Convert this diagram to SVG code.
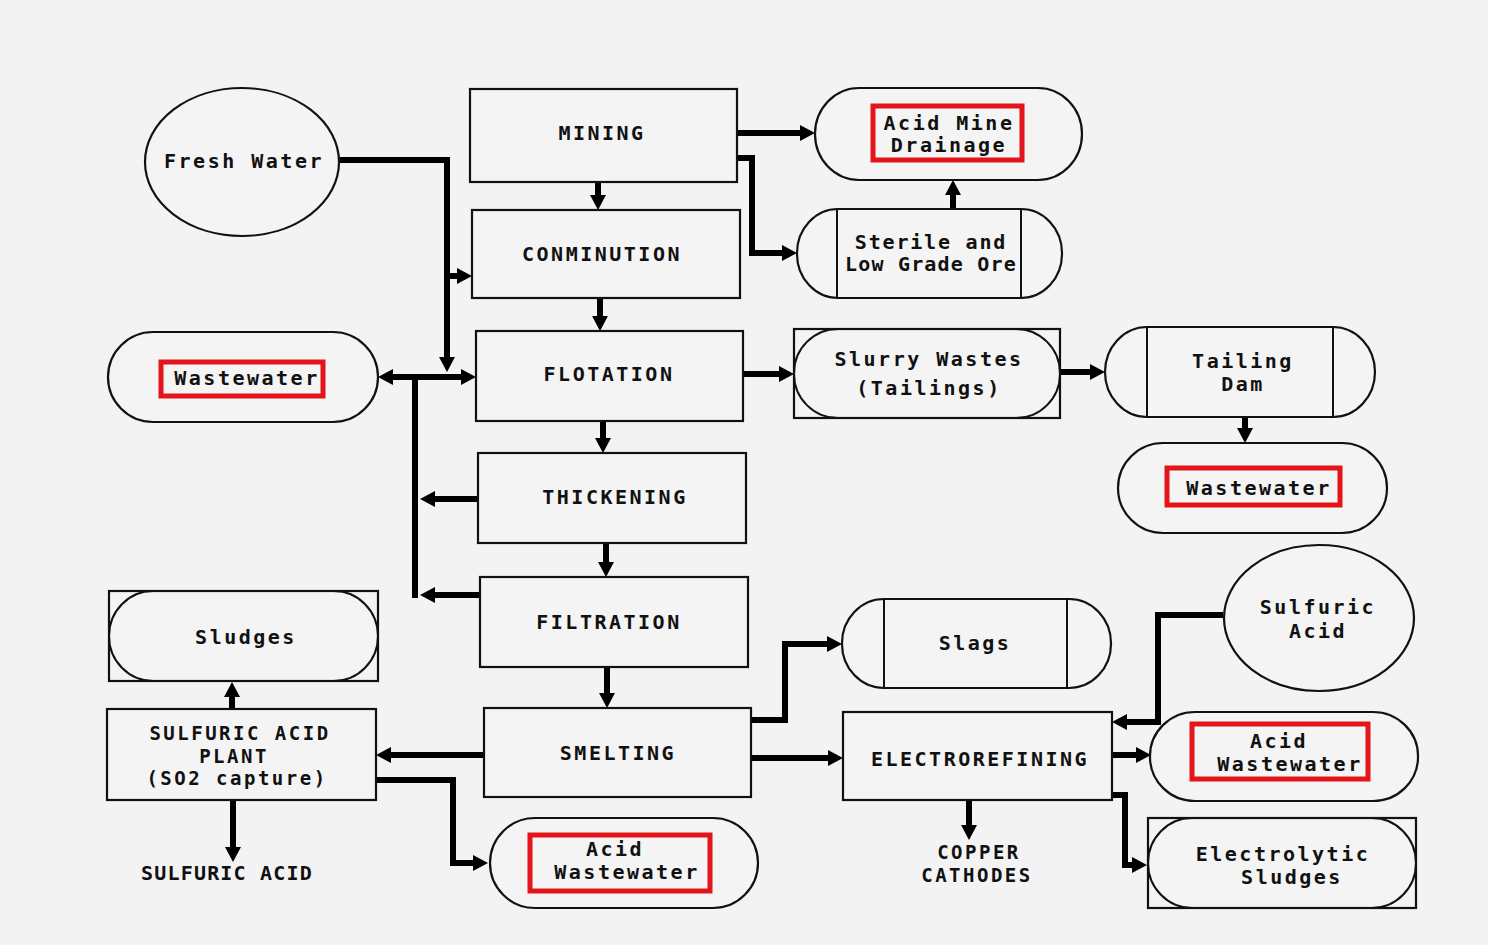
<svg xmlns="http://www.w3.org/2000/svg" width="1488" height="945" viewBox="0 0 1488 945">
<style>
.n{fill:none;stroke:#111;stroke-width:2}
.b{fill:#f4f4f4;stroke:#111;stroke-width:2.2}
.r{fill:none;stroke:#e3151b;stroke-width:5}
.c{fill:none;stroke:#000;stroke-width:6;marker-end:url(#ah)}
.t{font-family:"DejaVu Sans Mono","Liberation Mono",monospace;font-weight:bold;font-size:20px;letter-spacing:2.5px;text-anchor:middle;fill:#111}
.s{font-size:19px}
</style>
<defs>
<marker id="ah" markerUnits="userSpaceOnUse" markerWidth="18" markerHeight="18" refX="4" refY="9" orient="auto-start-reverse">
<path d="M0,1 L15,9 L0,17 z" fill="#000"/>
</marker>
</defs>
<rect x="0" y="0" width="1488" height="945" fill="#f3f3f3"/>

<g id="connectors">
<path class="c" d="M339,160 H447 V361"/>
<path class="c" d="M447,276 H461"/>
<path class="c" style="marker-start:url(#ah)" d="M389,377 H465"/>
<path fill="none" stroke="#000" stroke-width="6" d="M415,377 V598"/>
<path class="c" d="M478,499 H431"/>
<path class="c" d="M480,595 H431"/>
<path class="c" d="M598,182 V199"/>
<path class="c" d="M737,133 H804"/>
<path class="c" d="M737,158 H752 V253 H786"/>
<path class="c" d="M953,210 V191"/>
<path class="c" d="M600,298 V320"/>
<path class="c" d="M603,421 V442"/>
<path class="c" d="M606,543 V566"/>
<path class="c" d="M607,667 V697"/>
<path class="c" d="M743,374 H783"/>
<path class="c" d="M1060,372 H1094"/>
<path class="c" d="M1245,417 V432"/>
<path class="c" d="M484,755 H387"/>
<path class="c" d="M232,709 V693"/>
<path class="c" d="M233,800 V851"/>
<path class="c" d="M376,780 H453 V863 H477"/>
<path class="c" d="M751,720 H785 V644 H831"/>
<path class="c" d="M751,758 H832"/>
<path class="c" d="M1223,615 H1158 V722 H1123"/>
<path class="c" d="M1112,755 H1140"/>
<path class="c" d="M1112,795 H1125 V865 H1136"/>
<path class="c" d="M969,800 V829"/>
</g>

<g id="fresh-water">
<ellipse class="b" cx="242" cy="162" rx="97" ry="74"/>
<text class="t" x="244" y="168">Fresh Water</text>
</g>
<g id="mining">
<rect class="b" x="470" y="89" width="267" height="93"/>
<text class="t" x="602" y="140">MINING</text>
</g>
<g id="acid-mine-drainage">
<rect class="b" x="815" y="88" width="267" height="92" rx="44" ry="46"/>
<rect class="r" x="873" y="106" width="149" height="54"/>
<text class="t" x="949" y="130">Acid Mine</text>
<text class="t" x="949" y="152">Drainage</text>
</g>
<g id="conminution">
<rect class="b" x="472" y="210" width="268" height="88"/>
<text class="t" x="602" y="261">CONMINUTION</text>
</g>
<g id="sterile">
<rect class="b" x="797" y="209" width="265" height="89" rx="41" ry="44"/>
<path class="n" d="M837,209 V298 M1021,209 V298"/>
<text class="t" x="931" y="249" style="letter-spacing:1.8px">Sterile and</text>
<text class="t" x="931" y="271" style="letter-spacing:1.2px">Low Grade Ore</text>
</g>
<g id="flotation">
<rect class="b" x="476" y="331" width="267" height="90"/>
<text class="t" x="609" y="381">FLOTATION</text>
</g>
<g id="slurry-wastes">
<rect class="b" x="794" y="329" width="266" height="89"/>
<rect class="n" x="794" y="329" width="266" height="89" rx="44" ry="44"/>
<text class="t" x="929" y="366">Slurry Wastes</text>
<text class="t" x="929" y="395">(Tailings)</text>
</g>
<g id="tailing-dam">
<rect class="b" x="1105" y="327" width="270" height="90" rx="42" ry="45"/>
<path class="n" d="M1147,327 V417 M1333,327 V417"/>
<text class="t" x="1243" y="368">Tailing</text>
<text class="t" x="1243" y="391">Dam</text>
</g>
<g id="wastewater-right">
<rect class="b" x="1118" y="443" width="269" height="90" rx="45" ry="45"/>
<rect class="r" x="1167" y="468" width="173" height="37"/>
<text class="t" x="1259" y="495">Wastewater</text>
</g>
<g id="wastewater-left">
<rect class="b" x="108" y="332" width="270" height="90" rx="45" ry="45"/>
<rect class="r" x="161" y="362" width="162" height="34"/>
<text class="t" x="247" y="385">Wastewater</text>
</g>
<g id="thickening">
<rect class="b" x="478" y="453" width="268" height="90"/>
<text class="t" x="615" y="504">THICKENING</text>
</g>
<g id="filtration">
<rect class="b" x="480" y="577" width="268" height="90"/>
<text class="t" x="609" y="629">FILTRATION</text>
</g>
<g id="smelting">
<rect class="b" x="484" y="708" width="267" height="89"/>
<text class="t" x="618" y="760">SMELTING</text>
</g>
<g id="sludges">
<rect class="b" x="109" y="591" width="269" height="90"/>
<rect class="n" x="109" y="591" width="269" height="90" rx="44" ry="45"/>
<text class="t" x="246" y="644">Sludges</text>
</g>
<g id="sulfuric-acid-plant">
<rect class="b" x="107" y="709" width="269" height="91"/>
<text class="t s" x="240" y="740">SULFURIC ACID</text>
<text class="t s" x="234" y="762.5">PLANT</text>
<text class="t s" x="237" y="785">(SO2 capture)</text>
</g>
<g id="sulfuric-acid-product">
<text class="t" x="227" y="880" style="letter-spacing:1.2px">SULFURIC ACID</text>
</g>
<g id="acid-wastewater-bottom">
<rect class="b" x="490" y="818" width="268" height="90" rx="45" ry="45"/>
<rect class="r" x="530" y="835" width="180" height="56"/>
<text class="t" x="615" y="856">Acid</text>
<text class="t" x="627" y="879">Wastewater</text>
</g>
<g id="slags">
<rect class="b" x="842" y="599" width="269" height="89" rx="42" ry="44"/>
<path class="n" d="M884,599 V688 M1067,599 V688"/>
<text class="t" x="975" y="650">Slags</text>
</g>
<g id="electrorefining">
<rect class="b" x="843" y="712" width="269" height="88"/>
<text class="t" x="980" y="766">ELECTROREFINING</text>
</g>
<g id="copper-cathodes">
<text class="t s" x="979" y="859">COPPER</text>
<text class="t s" x="977" y="882">CATHODES</text>
</g>
<g id="sulfuric-acid">
<ellipse class="b" cx="1319" cy="618" rx="95" ry="73"/>
<text class="t" x="1318" y="614">Sulfuric</text>
<text class="t" x="1318" y="638">Acid</text>
</g>
<g id="acid-wastewater-right">
<rect class="b" x="1150" y="712" width="268" height="89" rx="45" ry="44"/>
<rect class="r" x="1192" y="724" width="176" height="55"/>
<text class="t" x="1279" y="748">Acid</text>
<text class="t" x="1290" y="771">Wastewater</text>
</g>
<g id="electrolytic-sludges">
<rect class="b" x="1148" y="818" width="268" height="90"/>
<rect class="n" x="1148" y="818" width="268" height="90" rx="44" ry="45"/>
<text class="t" x="1283" y="861">Electrolytic</text>
<text class="t" x="1292" y="884">Sludges</text>
</g>
</svg>
